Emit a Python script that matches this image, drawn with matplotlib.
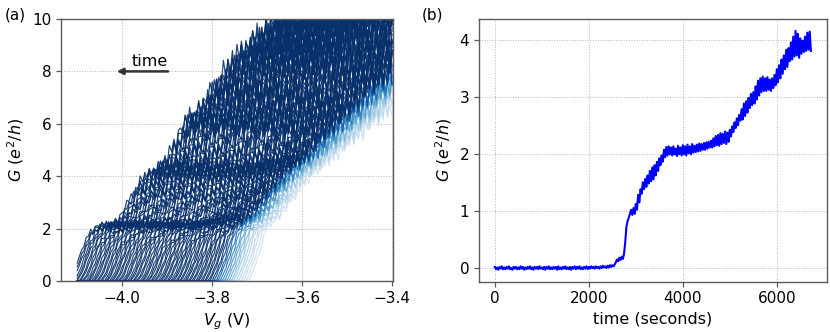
import numpy as np
import matplotlib
matplotlib.use("Agg")
import matplotlib.pyplot as plt

# ---------------- panel (a) data ----------------
# gate-voltage sweep grid (V)
VG_START, VG_STOP, VG_STEP = -4.10, -3.40, 0.005

# onset voltage of each sweep, earliest sweep first
ONSETS_LIGHT = [-3.718, -3.724, -3.73, -3.735, -3.741, -3.746, -3.752, -3.757, -3.762,
                -3.767, -3.772, -3.777, -3.782, -3.787, -3.791, -3.796]
ONSETS_DARK = [-3.800, -3.805, -3.808, -3.813, -3.816, -3.821, -3.824, -3.829, -3.832, -3.836,
               -3.841, -3.844, -3.849, -3.852, -3.857, -3.860, -3.864, -3.869, -3.872, -3.877,
               -3.880, -3.885, -3.888, -3.892, -3.897, -3.900, -3.905, -3.908, -3.913, -3.916,
               -3.920, -3.925, -3.928, -3.933, -3.936, -3.941, -3.944, -3.948, -3.953, -3.956,
               -3.960, -3.965, -3.968, -3.973, -3.976, -3.981, -3.984, -3.988, -3.993, -3.996,
               -4.000, -4.005, -4.008, -4.013, -4.016, -4.021, -4.024, -4.028, -4.033, -4.036,
               -4.040, -4.045, -4.048, -4.053, -4.056, -4.061, -4.064, -4.068, -4.073, -4.076,
               -4.080, -4.085, -4.088, -4.093, -4.096, -4.101, -4.104, -4.108, -4.113, -4.116,
               -4.120]
ONSETS = ONSETS_LIGHT + ONSETS_DARK

# colour level (Blues colormap) of each sweep
SHADE_LIGHT = [0.2, 0.22, 0.25, 0.28, 0.31, 0.35, 0.4, 0.45, 0.5,
               0.56, 0.62, 0.68, 0.74, 0.8, 0.86, 0.92]
SHADE = SHADE_LIGHT + [1.0] * len(ONSETS_DARK)

# late sweeps (with plateaus): G vs (Vg - onset)
DV_LATE = [0, 0.01, 0.02, 0.035, 0.05, 0.065, 0.09, 0.11, 0.13, 0.15, 0.17, 0.19,
           0.21, 0.23, 0.25, 0.27, 0.29, 0.31, 0.33, 0.35, 0.38, 0.42, 0.46, 0.50, 0.60, 0.75]
G_LATE = [0, 0.25, 0.7, 1.4, 1.9, 2.1, 2.15, 2.3, 2.9, 3.5, 4.0, 4.2,
          4.45, 5.0, 5.8, 6.2, 6.5, 7.0, 7.5, 8.0, 8.6, 9.2, 9.9, 10.5, 12.0, 13.5]
# early sweeps (smooth rise)
DV_EARLY = [0, 0.02, 0.038, 0.08, 0.125, 0.2, 0.27, 0.33, 0.45, 0.6]
G_EARLY = [0, 0.9, 2.0, 2.7, 3.85, 5.0, 6.0, 6.9, 8.4, 10.0]

# relative fluctuation pattern of the sweeps
JITTER = [0.3, -0.8, 0.9, -0.2, 0.6, -1.0, 0.4, 0.1, -0.6, 0.8, -0.4, 1.0, -0.7,
          0.2, -0.3, 0.7, -0.9, 0.5, 0.0, -0.5, 0.9, -0.1, 0.6, -0.8, 0.3, -0.6,
          1.0, -0.3, 0.1, -0.9, 0.7, -0.2, 0.4, -0.7, 0.8, -0.4, 0.2]

# ---------------- panel (b) data ----------------
T_STEP = 25  # seconds
G_TIME = [
    0.02, -0.02, 0.01, -0.03, 0.02, -0.01, 0.03, -0.02, 0.01, -0.02,
    0.02, -0.01, 0.03, -0.02, 0.00, -0.03, 0.02, -0.01, 0.02, -0.02,
    0.01, -0.02, 0.03, -0.01, 0.02, -0.03, 0.01, -0.02, 0.02, -0.01,
    0.03, -0.02, 0.01, -0.03, 0.02, -0.01, 0.02, -0.02, 0.03, -0.01,
    0.01, -0.02, 0.02, -0.03, 0.02, -0.01, 0.03, -0.02, 0.01, -0.02,
    0.02, -0.01, 0.02, -0.03, 0.03, -0.02, 0.01, -0.02, 0.02, -0.01,
    0.03, -0.02, 0.01, -0.02, 0.02, -0.03, 0.02, -0.01, 0.03, -0.02,
    0.02, -0.01, 0.03, -0.02, 0.01, -0.02, 0.02, -0.01, 0.03, -0.02,
    0.02, -0.01, 0.03, 0.00, 0.02, -0.01, 0.03, 0.00, 0.02, -0.01,
    0.03, 0.00, 0.04, 0.01, 0.03, 0.00, 0.04, 0.01, 0.05, 0.02,
    0.05, 0.03, 0.06, 0.10, 0.15, 0.12, 0.18, 0.14, 0.20, 0.16,
    0.25, 0.45, 0.72, 0.82, 0.88, 0.95, 1.02, 0.93, 1.05, 0.95,
    1.12, 1.02, 1.28, 1.15, 1.38, 1.30, 1.50, 1.38, 1.56, 1.42,
    1.62, 1.48, 1.70, 1.52, 1.76, 1.55, 1.80, 1.62, 1.86, 1.70,
    1.92, 1.80, 1.97, 1.86, 2.07, 1.94, 2.12, 1.97, 2.13, 1.99,
    2.11, 1.97, 2.13, 1.99, 2.09, 1.96, 2.14, 1.99, 2.11, 1.97,
    2.15, 1.99, 2.13, 1.97, 2.16, 2.01, 2.13, 1.99, 2.17, 2.02,
    2.14, 2.03, 2.16, 2.04, 2.18, 2.05, 2.17, 2.07, 2.19, 2.07,
    2.20, 2.09, 2.21, 2.11, 2.23, 2.11, 2.27, 2.13, 2.31, 2.15,
    2.33, 2.14, 2.36, 2.17, 2.35, 2.19, 2.39, 2.17, 2.37, 2.21,
    2.42, 2.30, 2.48, 2.38, 2.55, 2.45, 2.62, 2.50, 2.68, 2.58,
    2.78, 2.60, 2.88, 2.66, 2.92, 2.72, 2.98, 2.80, 3.05, 2.85,
    3.08, 2.88, 3.18, 2.95, 3.28, 3.02, 3.32, 3.08, 3.35, 3.10,
    3.32, 3.10, 3.34, 3.12, 3.30, 3.10, 3.32, 3.15, 3.38, 3.20,
    3.48, 3.25, 3.55, 3.32, 3.65, 3.40, 3.72, 3.48, 3.82, 3.52,
    3.85, 3.62, 3.95, 3.65, 4.05, 3.70, 4.15, 3.72, 4.10, 3.68,
    4.02, 3.75, 3.98, 3.78, 4.05, 3.80, 4.12, 3.82, 4.14, 3.80,
]

# ---------------- figure ----------------
plt.rcParams['font.family'] = ['DejaVu Sans']
plt.rcParams['font.size'] = 11
fig = plt.figure(figsize=(8.3, 3.32), dpi=100)
ax1 = fig.add_axes([0.0735, 0.1536, 0.400, 0.7892])
ax2 = fig.add_axes([0.5771, 0.1515, 0.4189, 0.7913])

spine_col = '#5a5a5a'
for ax in (ax1, ax2):
    for s in ax.spines.values():
        s.set_color(spine_col)
        s.set_linewidth(1.0)
    ax.tick_params(colors=spine_col, labelcolor='black', labelsize=11, width=0.9)
    ax.grid(True, linestyle=':', color='#b5b5b5', linewidth=0.7)
    ax.set_axisbelow(True)

vg = np.arange(VG_START, VG_STOP + VG_STEP / 2, VG_STEP)
jit = np.resize(np.array(JITTER), vg.size)
for i, (o, sh) in enumerate(zip(ONSETS, SHADE)):
    dv = np.clip(vg - o, 0, None)
    w = min(1.0, i / 45.0)
    g = w * np.interp(dv, DV_LATE, G_LATE) + (1 - w) * np.interp(dv, DV_EARLY, G_EARLY)
    g = g + 0.07 * g * np.roll(jit, i * 11)
    ax1.plot(vg, g, color=plt.cm.Blues(sh), lw=0.85, alpha=0.9)

ax1.set_xlim(-4.136, -3.398)
ax1.set_ylim(0, 10)
ax1.set_xticks([-4.0, -3.8, -3.6, -3.4])
ax1.set_xticklabels(['\u22124.0', '\u22123.8', '\u22123.6', '\u22123.4'])
ax1.set_yticks([0, 2, 4, 6, 8, 10])
ax1.set_xlabel(r'$V_g$ (V)', fontsize=11.5)
ax1.set_ylabel(r'$G$ ($e^2/h$)', fontsize=11.5)
ax1.annotate('', xy=(-4.012, 8.0), xytext=(-3.898, 8.0),
             arrowprops=dict(arrowstyle='-|>', color='#333333', lw=1.8,
                             mutation_scale=9, shrinkA=0, shrinkB=0))
ax1.text(-3.939, 8.1, 'time', ha='center', va='bottom', fontsize=11.5)

t = np.arange(len(G_TIME)) * T_STEP
ax2.plot(t, G_TIME, color='#0000ff', lw=1.5)
ax2.set_xticks([0, 2000, 4000, 6000])
ax2.set_yticks([0, 1, 2, 3, 4])
ax2.set_xlabel('time (seconds)', fontsize=11.5)
ax2.set_ylabel(r'$G$ ($e^2/h$)', fontsize=11.5)

fig.text(0.006, 0.978, '(a)', fontsize=11, va='top', ha='left')
fig.text(0.508, 0.978, '(b)', fontsize=11, va='top', ha='left')

fig.savefig('out.png', dpi=100)
